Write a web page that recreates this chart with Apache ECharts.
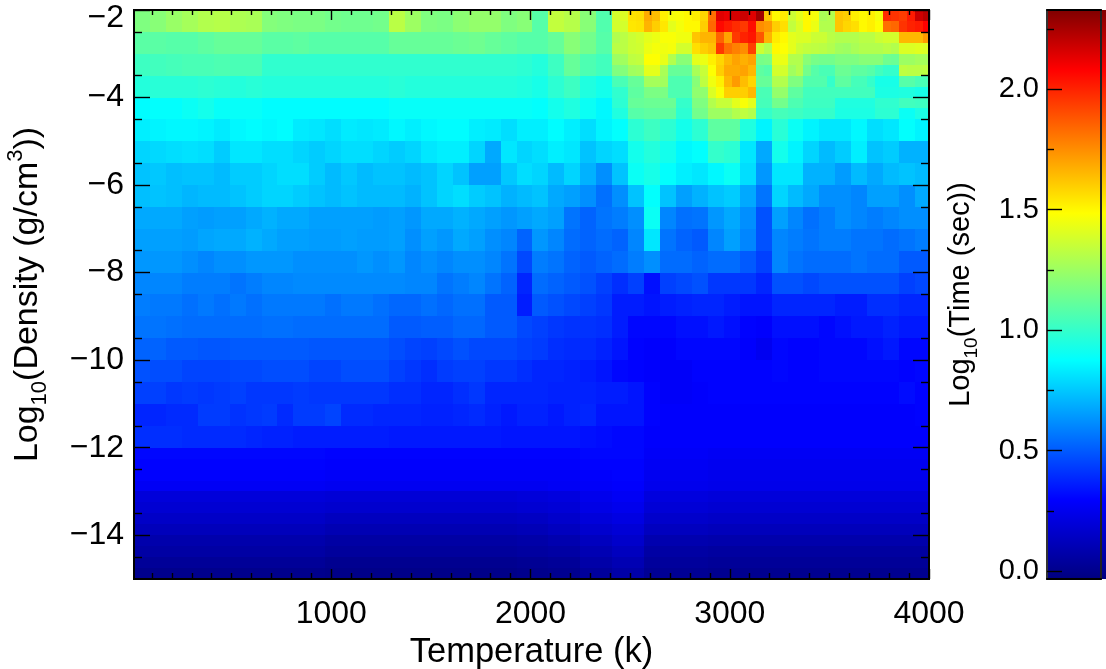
<!DOCTYPE html>
<html><head><meta charset="utf-8">
<style>html,body{margin:0;padding:0;background:#fff}#c{width:1106px;height:669px}</style>
<script src="https://cdn.jsdelivr.net/npm/echarts@6/dist/echarts.min.js"></script>
</head><body><div id="c"></div>
<script>
// Log10(Time) read by eye. Cells: T from 10 K, log density from -2 downward.
const tempMin = 10, tempMax = 4000, densMin = -15, densMax = -2;
const barMin = -0.033, barMax = 2.328;

// T 10..2410 K in 80 K steps, density -2..-4.5 in 0.5 dex steps
const upperLeftValues = [
[1.18,1.2,1.24,1.27,1.3,1.31,1.29,1.28,1.19,1.18,1.17,1.17,1.15,1.14,1.14,1.15,1.32,1.25,1.18,1.17,1.21,1.23,1.23,1.18,1.2,1.08,1.34,1.31,1.2,1.07],
[1.09,1.09,1.08,1.08,1.1,1.12,1.12,1.12,1.09,1.09,1.1,1.08,1.08,1.08,1.08,1.08,1.12,1.12,1.12,1.12,1.13,1.14,1.12,1.1,1.08,1.08,1.12,1.2,1.15,1.08],
[1.02,1.03,1.04,1.05,1.05,1.06,1.05,1.05,.99,.99,.99,.99,.99,.99,.99,.99,.99,.99,.99,.99,.99,.99,.99,.99,.98,.96,1.02,1.12,1.06,1.03],
[.96,.97,.97,.97,.98,.97,.96,.97,.96,.96,.96,.96,.96,.96,.96,.96,.97,.96,.96,.96,.96,.96,.96,.96,.95,.93,.98,1.02,.95,.92],
[.87,.88,.88,.9,.92,.89,.89,.89,.87,.87,.87,.87,.87,.87,.87,.87,.89,.89,.89,.89,.89,.89,.89,.89,.89,.88,.92,.95,.9,.86]
];

// T 2410..4000 K in 40 K steps, density -2..-4.5 in 0.25 dex steps
const hotValues = [
[1.38,1.40,1.55,1.56,1.68,1.64,1.52,1.46,1.47,1.50,1.52,1.58,1.82,2.14,2.12,2.16,2.18,2.14,2.26,1.62,1.50,1.53,1.36,1.42,1.50,1.46,1.28,1.30,1.62,1.60,1.52,1.50,1.52,1.46,1.98,1.96,1.94,2.02,2.18,2.22],
[1.38,1.38,1.54,1.55,1.66,1.60,1.54,1.42,1.46,1.50,1.50,1.60,1.84,2.06,2.02,1.98,1.95,2.05,1.75,1.72,1.6,1.56,1.34,1.40,1.5,1.44,1.3,1.3,1.62,1.58,1.56,1.5,1.52,1.48,1.82,1.84,1.96,2.0,2.02,2.08],
[1.3,1.32,1.36,1.38,1.42,1.44,1.47,1.47,1.45,1.45,1.62,1.66,1.66,1.85,1.7,1.95,2.0,2.03,1.88,1.66,1.53,1.5,1.42,1.4,1.4,1.36,1.36,1.32,1.3,1.3,1.3,1.32,1.32,1.36,1.38,1.38,1.65,1.65,1.65,1.72],
[1.32,1.32,1.36,1.37,1.44,1.46,1.45,1.46,1.38,1.38,1.56,1.6,1.63,1.95,1.82,1.78,1.75,1.93,1.36,1.3,1.5,1.48,1.42,1.36,1.34,1.33,1.32,1.3,1.26,1.25,1.28,1.3,1.3,1.3,1.32,1.3,1.4,1.4,1.41,1.4],
[1.25,1.26,1.33,1.34,1.48,1.48,1.43,1.3,1.2,1.2,1.42,1.44,1.52,1.58,1.65,1.7,1.67,1.7,1.16,1.17,1.43,1.44,1.3,1.3,1.2,1.16,1.15,1.15,1.18,1.18,1.18,1.2,1.2,1.2,1.14,1.13,1.25,1.25,1.27,1.27],
[1.18,1.19,1.26,1.27,1.42,1.42,1.28,1.12,1.12,1.12,1.28,1.35,1.48,1.6,1.68,1.68,1.7,1.65,1.1,1.08,1.38,1.38,1.26,1.3,1.15,1.08,1.05,1.05,1.13,1.13,1.1,1.1,1.08,1.03,1.0,1.0,1.33,1.32,1.32,1.33],
[1.05,1.05,1.12,1.12,1.27,1.27,1.26,1.06,1.06,1.06,1.2,1.33,1.45,1.52,1.65,1.72,1.64,1.58,1.12,1.12,1.3,1.3,1.18,1.18,1.07,1.07,1.07,1.0,1.1,1.1,1.04,1.04,1.0,.93,.93,.93,1.08,1.08,1.05,1.05],
[.99,.99,1.1,1.1,1.17,1.17,1.17,1.06,1.06,1.06,1.22,1.22,1.4,1.47,1.6,1.6,1.6,1.65,1.05,1.05,1.23,1.23,1.1,1.1,1.03,1.03,1.03,1.03,1.03,1.03,1.03,1.03,1.03,.94,.94,.94,.95,.95,.93,.93],
[.98,.98,1.12,1.12,1.13,1.13,1.13,1.13,1.0,1.0,1.18,1.18,1.3,1.35,1.35,1.42,1.47,1.42,1.04,1.04,1.15,1.15,1.06,1.06,1.02,1.02,1.02,1.02,.95,.95,.95,.95,.95,.99,.99,.99,1.03,1.03,1.02,1.02],
[.95,.95,1.08,1.08,1.1,1.1,1.1,1.1,.98,.98,1.15,1.15,1.25,1.25,1.25,1.3,1.33,1.3,1.0,1.0,1.04,1.04,1.02,1.02,1.0,1.0,1.0,1.0,.94,.94,.94,.94,.94,.98,.98,.98,.9,.9,.94,.94]
];

// T 10..4010 K in 80 K steps, density -4.5..-12 in 0.5 dex steps
const lowerValues = [
[.84,.85,.86,.86,.85,.83,.86,.87,.86,.87,.83,.82,.8,.83,.82,.83,.86,.84,.86,.87,.87,.84,.83,.8,.84,.84,.87,.84,.8,.85,.88,.98,1.02,.98,.92,.98,1.1,1.1,.95,.85,.97,.9,.85,.82,.82,.86,.8,.82,.88,.85],
[.78,.79,.8,.81,.8,.76,.82,.82,.8,.8,.78,.76,.78,.8,.8,.78,.76,.78,.82,.84,.84,.78,.68,.82,.78,.8,.84,.82,.74,.78,.8,.92,.96,.92,.86,.88,1.0,.98,.82,.68,.92,.85,.78,.72,.76,.84,.74,.76,.7,.7],
[.74,.75,.73,.74,.74,.72,.76,.76,.78,.8,.8,.76,.72,.75,.72,.74,.74,.72,.74,.78,.74,.66,.66,.75,.8,.78,.72,.78,.7,.62,.74,.9,.93,.88,.84,.82,.86,.9,.8,.64,.82,.82,.7,.7,.65,.72,.68,.72,.74,.72],
[.73,.74,.73,.71,.72,.72,.74,.76,.78,.78,.76,.74,.72,.74,.72,.72,.72,.7,.74,.78,.8,.76,.74,.7,.72,.74,.68,.66,.62,.55,.62,.74,.88,.74,.66,.7,.74,.76,.68,.56,.78,.72,.68,.62,.62,.6,.66,.66,.62,.68],
[.68,.68,.68,.66,.65,.66,.66,.68,.7,.68,.68,.66,.66,.66,.66,.65,.66,.64,.68,.68,.7,.68,.66,.64,.66,.68,.66,.56,.52,.56,.58,.62,.9,.6,.55,.56,.64,.68,.62,.48,.66,.6,.55,.58,.62,.6,.58,.6,.62,.62],
[.66,.66,.66,.65,.67,.68,.68,.7,.68,.66,.66,.65,.65,.66,.65,.65,.66,.62,.66,.64,.68,.66,.62,.6,.52,.64,.6,.54,.52,.54,.52,.6,.82,.56,.52,.5,.6,.66,.6,.48,.6,.58,.56,.58,.58,.56,.56,.54,.56,.58],
[.64,.64,.64,.62,.6,.62,.62,.64,.64,.64,.62,.62,.62,.62,.64,.62,.64,.6,.62,.6,.62,.62,.6,.56,.46,.58,.56,.52,.5,.52,.54,.58,.62,.54,.54,.52,.54,.54,.5,.44,.6,.56,.54,.54,.54,.56,.54,.54,.5,.5],
[.6,.6,.6,.58,.58,.58,.56,.58,.6,.6,.61,.61,.61,.61,.61,.61,.61,.6,.6,.56,.58,.6,.56,.52,.38,.54,.52,.5,.48,.44,.4,.44,.33,.44,.46,.48,.42,.42,.42,.38,.48,.48,.46,.48,.48,.48,.48,.48,.44,.46],
[.58,.57,.57,.55,.57,.55,.57,.55,.57,.57,.57,.57,.55,.57,.57,.55,.53,.53,.55,.53,.55,.55,.5,.5,.36,.5,.48,.46,.44,.42,.36,.36,.34,.36,.37,.38,.38,.36,.34,.34,.38,.38,.38,.38,.36,.36,.4,.4,.38,.38],
[.56,.56,.55,.54,.54,.54,.54,.54,.55,.55,.54,.54,.54,.54,.54,.54,.5,.5,.51,.51,.53,.53,.5,.5,.46,.44,.42,.41,.41,.4,.36,.31,.31,.31,.33,.33,.35,.33,.3,.29,.33,.33,.33,.31,.33,.35,.35,.37,.35,.35],
[.52,.52,.5,.5,.49,.49,.5,.5,.5,.5,.5,.49,.49,.49,.49,.49,.47,.45,.44,.46,.48,.46,.46,.46,.44,.43,.4,.39,.39,.37,.34,.3,.29,.29,.31,.31,.31,.31,.29,.26,.31,.3,.3,.31,.31,.31,.33,.35,.31,.31],
[.48,.47,.47,.45,.45,.45,.46,.46,.47,.47,.47,.45,.45,.47,.47,.47,.44,.42,.4,.43,.44,.44,.42,.42,.4,.38,.38,.37,.36,.34,.31,.3,.29,.28,.28,.3,.3,.3,.3,.3,.31,.3,.3,.31,.31,.31,.31,.31,.3,.31],
[.44,.44,.42,.43,.42,.43,.44,.42,.42,.42,.43,.42,.42,.42,.42,.42,.4,.4,.38,.38,.4,.42,.38,.38,.38,.38,.37,.37,.37,.36,.36,.34,.3,.28,.28,.29,.3,.3,.3,.3,.3,.3,.3,.3,.3,.3,.3,.3,.32,.3],
[.38,.38,.39,.39,.43,.43,.41,.42,.43,.39,.43,.43,.45,.39,.39,.38,.38,.38,.37,.37,.38,.39,.37,.35,.37,.37,.35,.37,.38,.34,.34,.34,.3,.29,.29,.29,.29,.29,.29,.29,.29,.29,.29,.29,.29,.29,.29,.29,.29,.3],
[.4,.4,.4,.39,.39,.39,.39,.38,.37,.37,.36,.36,.36,.36,.36,.36,.35,.35,.35,.35,.35,.35,.35,.34,.34,.34,.34,.34,.33,.32,.31,.31,.29,.29,.29,.29,.29,.29,.29,.29,.29,.29,.29,.29,.29,.29,.29,.29,.29,.29]
];

// T 10..4010 K in 160 K steps, density -12..-15 in 0.25 dex steps
const bottomValues = [
[.31,.31,.31,.31,.31,.31,.3,.3,.3,.3,.3,.3,.3,.3,.31,.31,.28,.28,.27,.27,.27,.27,.27,.27,.27],
[.3,.3,.3,.3,.3,.3,.29,.29,.29,.29,.29,.29,.29,.29,.3,.3,.27,.27,.26,.26,.26,.26,.26,.26,.26],
[.295,.295,.295,.29,.29,.29,.28,.28,.28,.28,.28,.28,.28,.28,.29,.3,.26,.26,.25,.25,.25,.25,.25,.25,.25],
[.27,.27,.27,.27,.27,.27,.26,.26,.26,.26,.26,.26,.26,.27,.28,.29,.25,.25,.24,.24,.24,.24,.24,.24,.24],
[.2,.2,.2,.2,.2,.2,.19,.19,.19,.19,.19,.19,.2,.21,.25,.27,.21,.21,.2,.2,.2,.2,.2,.2,.2],
[.18,.18,.18,.18,.18,.18,.17,.17,.17,.17,.17,.17,.18,.19,.23,.25,.19,.19,.18,.18,.18,.18,.18,.18,.18],
[.15,.15,.15,.15,.15,.15,.13,.13,.13,.13,.13,.13,.14,.16,.2,.22,.16,.16,.15,.15,.15,.15,.15,.15,.15],
[.12,.12,.12,.12,.12,.12,.1,.1,.1,.1,.1,.1,.11,.13,.17,.19,.13,.13,.12,.12,.12,.12,.12,.12,.12],
[.08,.08,.08,.08,.08,.08,.06,.06,.06,.06,.06,.06,.07,.09,.13,.16,.09,.09,.08,.08,.08,.08,.08,.08,.08],
[.06,.06,.06,.06,.06,.06,.04,.04,.04,.04,.04,.04,.05,.06,.1,.13,.06,.06,.05,.05,.05,.05,.05,.05,.05],
[.03,.03,.03,.03,.03,.03,.01,.01,.01,.01,.01,.01,.02,.03,.07,.1,.04,.04,.03,.03,.03,.03,.03,.03,.03],
[.0,.0,.0,.0,.0,.0,-.01,-.01,-.01,-.01,-.01,-.01,.0,.01,.04,.07,.02,.02,.01,.01,.01,.01,.01,.01,.01]
];

const xMajor = [1000,2000,3000,4000];
const xMinor = [100,200,300,400,500,600,700,800,900,1100,1200,1300,1400,1500,1600,1700,1800,1900,2100,2200,2300,2400,2500,2600,2700,2800,2900,3100,3200,3300,3400,3500,3600,3700,3800,3900];
const yMajor = [-14,-12,-10,-8,-6,-4,-2];
const yMinor = [-14.5,-13.5,-12.5,-11.5,-10.5,-9.5,-8.5,-7.5,-6.5,-5.5,-4.5,-3.5,-2.5];
const barMajor = [0,0.5,1,1.5,2];
const barMinor = [0.25,0.75,1.25,1.75,2.25];
const colorStops = [[-0.033,'#000080'],[0.295,'#0000ff'],[0.875,'#00ffff'],[1.485,'#ffff00'],[2.08,'#ff0000'],[2.328,'#800000']];

function colorAt(v){
  for(let i=1;i<colorStops.length;i++){
    if(v<=colorStops[i][0]){
      const a=colorStops[i-1],b=colorStops[i];
      return echarts.color.lerp((v-a[0])/(b[0]-a[0]),[a[1],b[1]]);
    }
  }
  return colorStops[colorStops.length-1][1];
}
const palette=[];
for(let i=0;i<=236;i++) palette.push(colorAt(barMin+(barMax-barMin)*i/236));

const cells=[];
function addBlock(rows,t0,dt,d0,dd){
  rows.forEach((row,i)=>row.forEach((v,j)=>{
    cells.push([t0+dt*j,Math.min(t0+dt*(j+1),tempMax),d0-dd*i,d0-dd*(i+1),v]);
  }));
}
addBlock(upperLeftValues,10,80,-2,0.5);
addBlock(hotValues,2410,40,-2,0.25);
addBlock(lowerValues,10,80,-4.5,0.5);
addBlock(bottomValues,10,160,-12,0.25);

const INK='#000';
const digitFont={fontFamily:'"Liberation Sans",Arial,sans-serif',color:INK};
function fmtNeg(v){return '\u2212'+Math.abs(v);}
function hx(pos,vals,len,lab){
  return {type:'value',gridIndex:0,position:pos,min:tempMin,max:tempMax,z:10,
    axisLine:{show:true,onZero:false,lineStyle:{color:INK,width:2}},
    axisTick:{show:true,inside:true,length:len,customValues:vals,lineStyle:{color:INK,width:1.4}},
    axisLabel:lab?{show:true,customValues:vals,fontSize:32,margin:19,formatter:v=>String(v),...digitFont,hideOverlap:false,showMinLabel:true,showMaxLabel:true}:{show:false},
    splitLine:{show:false}};
}
function vy(pos,vals,len,lab){
  return {type:'value',gridIndex:0,position:pos,min:densMin,max:densMax,z:10,
    axisLine:{show:true,onZero:false,lineStyle:{color:INK,width:2}},
    axisTick:{show:true,inside:true,length:len,customValues:vals,lineStyle:{color:INK,width:1.4}},
    axisLabel:lab?{show:true,customValues:vals,fontSize:32,margin:10,...digitFont,showMinLabel:true,showMaxLabel:true,
      formatter:v=>v===-2?'{t|'+fmtNeg(v)+'}':fmtNeg(v),
      rich:{t:{fontSize:32,padding:[17,0,0,0],...digitFont}}}:{show:false},
    splitLine:{show:false}};
}

const chart=echarts.init(document.getElementById('c'),null,{renderer:'canvas'});
const xAxes=[hx('bottom',xMajor,10,true),hx('bottom',xMinor,6,false),hx('top',xMajor,10,false),hx('top',xMinor,5,false)];
xAxes[0].name='Temperature (k)';xAxes[0].nameLocation='middle';xAxes[0].nameGap=55;
xAxes[0].nameTextStyle={fontSize:34.5,...digitFont};
const yAxes=[vy('left',yMajor,16,true),vy('left',yMinor,8,false),vy('right',yMajor,16,false),vy('right',yMinor,8,false)];
yAxes[0].name='{a|Log}{s|10}{a|(Density (g/cm}{p|3}{a|))}';
yAxes[0].nameLocation='middle';yAxes[0].nameGap=83;yAxes[0].nameRotate=90;
yAxes[0].nameTextStyle={...digitFont,rich:{
  a:{fontSize:34,...digitFont,lineHeight:46},
  s:{fontSize:22,...digitFont,lineHeight:46,verticalAlign:'bottom',padding:[12,0,0,0]},
  p:{fontSize:22,...digitFont,lineHeight:46,verticalAlign:'top',padding:[0,0,12,0]}
}};

// colour bar axes (grid 1)
const barXBase={type:'value',gridIndex:1,min:0,max:1,z:10,
  axisTick:{show:false},axisLabel:{show:false},splitLine:{show:false},
  axisLine:{show:true,onZero:false,lineStyle:{color:INK,width:2}}};
xAxes.push({...barXBase,position:'bottom'},{...barXBase,position:'top'});
const barYBase={type:'value',gridIndex:1,min:barMin,max:barMax,z:10,splitLine:{show:false}};
yAxes.push(
 {...barYBase,position:'left',
  axisLine:{show:true,onZero:false,lineStyle:{color:'#333',width:2}},
  axisTick:{show:true,inside:true,length:15,customValues:barMajor,lineStyle:{color:INK,width:1.4}},
  axisLabel:{show:true,customValues:barMajor,fontSize:29,margin:8,...digitFont,formatter:v=>v.toFixed(1)},
  name:'{a|Log}{s|10}{a|(Time (sec))}',nameLocation:'middle',nameGap:66,nameRotate:90,
  nameTextStyle:{...digitFont,rich:{
    a:{fontSize:29,...digitFont,lineHeight:40},
    s:{fontSize:19,...digitFont,lineHeight:40,verticalAlign:'bottom',padding:[10,0,0,0]}
  }}},
 {...barYBase,position:'left',
  axisLine:{show:false,onZero:false},
  axisTick:{show:true,inside:true,length:7,customValues:barMinor,lineStyle:{color:INK,width:1.4}},
  axisLabel:{show:false}},
 {...barYBase,position:'right',
  axisLine:{show:true,onZero:false,lineStyle:{color:'#222',width:2}},
  axisTick:{show:false},axisLabel:{show:false}}
);

chart.setOption({
  animation:false,
  backgroundColor:'#fff',
  textStyle:{fontFamily:'"Liberation Sans",Arial,sans-serif'},
  grid:[
    {left:134,top:10,width:795,height:569,containLabel:false,outerBoundsMode:'none'},
    {left:1047,top:10,width:54,height:569,containLabel:false,outerBoundsMode:'none'}
  ],
  xAxis:xAxes,
  yAxis:yAxes,
  visualMap:{type:'continuous',show:false,seriesIndex:0,dimension:4,min:barMin,max:barMax,calculable:false,inRange:{color:palette}},
  series:[
    {type:'custom',xAxisIndex:0,yAxisIndex:0,coordinateSystem:'cartesian2d',z:2,
     data:cells,encode:{x:[0,1],y:[2,3]},clip:true,silent:true,
     renderItem:(params,api)=>{
       const p0=api.coord([api.value(0),api.value(2)]);
       const p1=api.coord([api.value(1),api.value(3)]);
       const x0=Math.round(p0[0]),x1=Math.round(p1[0]),y0=Math.round(p0[1]),y1=Math.round(p1[1]);
       return {type:'rect',shape:{x:x0,y:y0,width:x1-x0,height:y1-y0},style:{fill:api.visual('color')}};
     }},
    {type:'custom',xAxisIndex:4,yAxisIndex:4,coordinateSystem:'cartesian2d',z:2,silent:true,
     data:[[0,1.12,barMin,barMax]],encode:{x:[0,1],y:[2,3]},
     renderItem:(params,api)=>{
       const p0=api.coord([api.value(0),api.value(3)]);
       const p1=api.coord([api.value(1),api.value(2)]);
       const stops=colorStops.map(s=>({offset:(s[0]-barMin)/(barMax-barMin),color:s[1]}));
       return {type:'rect',shape:{x:p0[0],y:p0[1],width:p1[0]-p0[0],height:p1[1]-p0[1]},
         style:{fill:new echarts.graphic.LinearGradient(0,1,0,0,stops)}};
     }}
  ]
});
</script></body></html>
